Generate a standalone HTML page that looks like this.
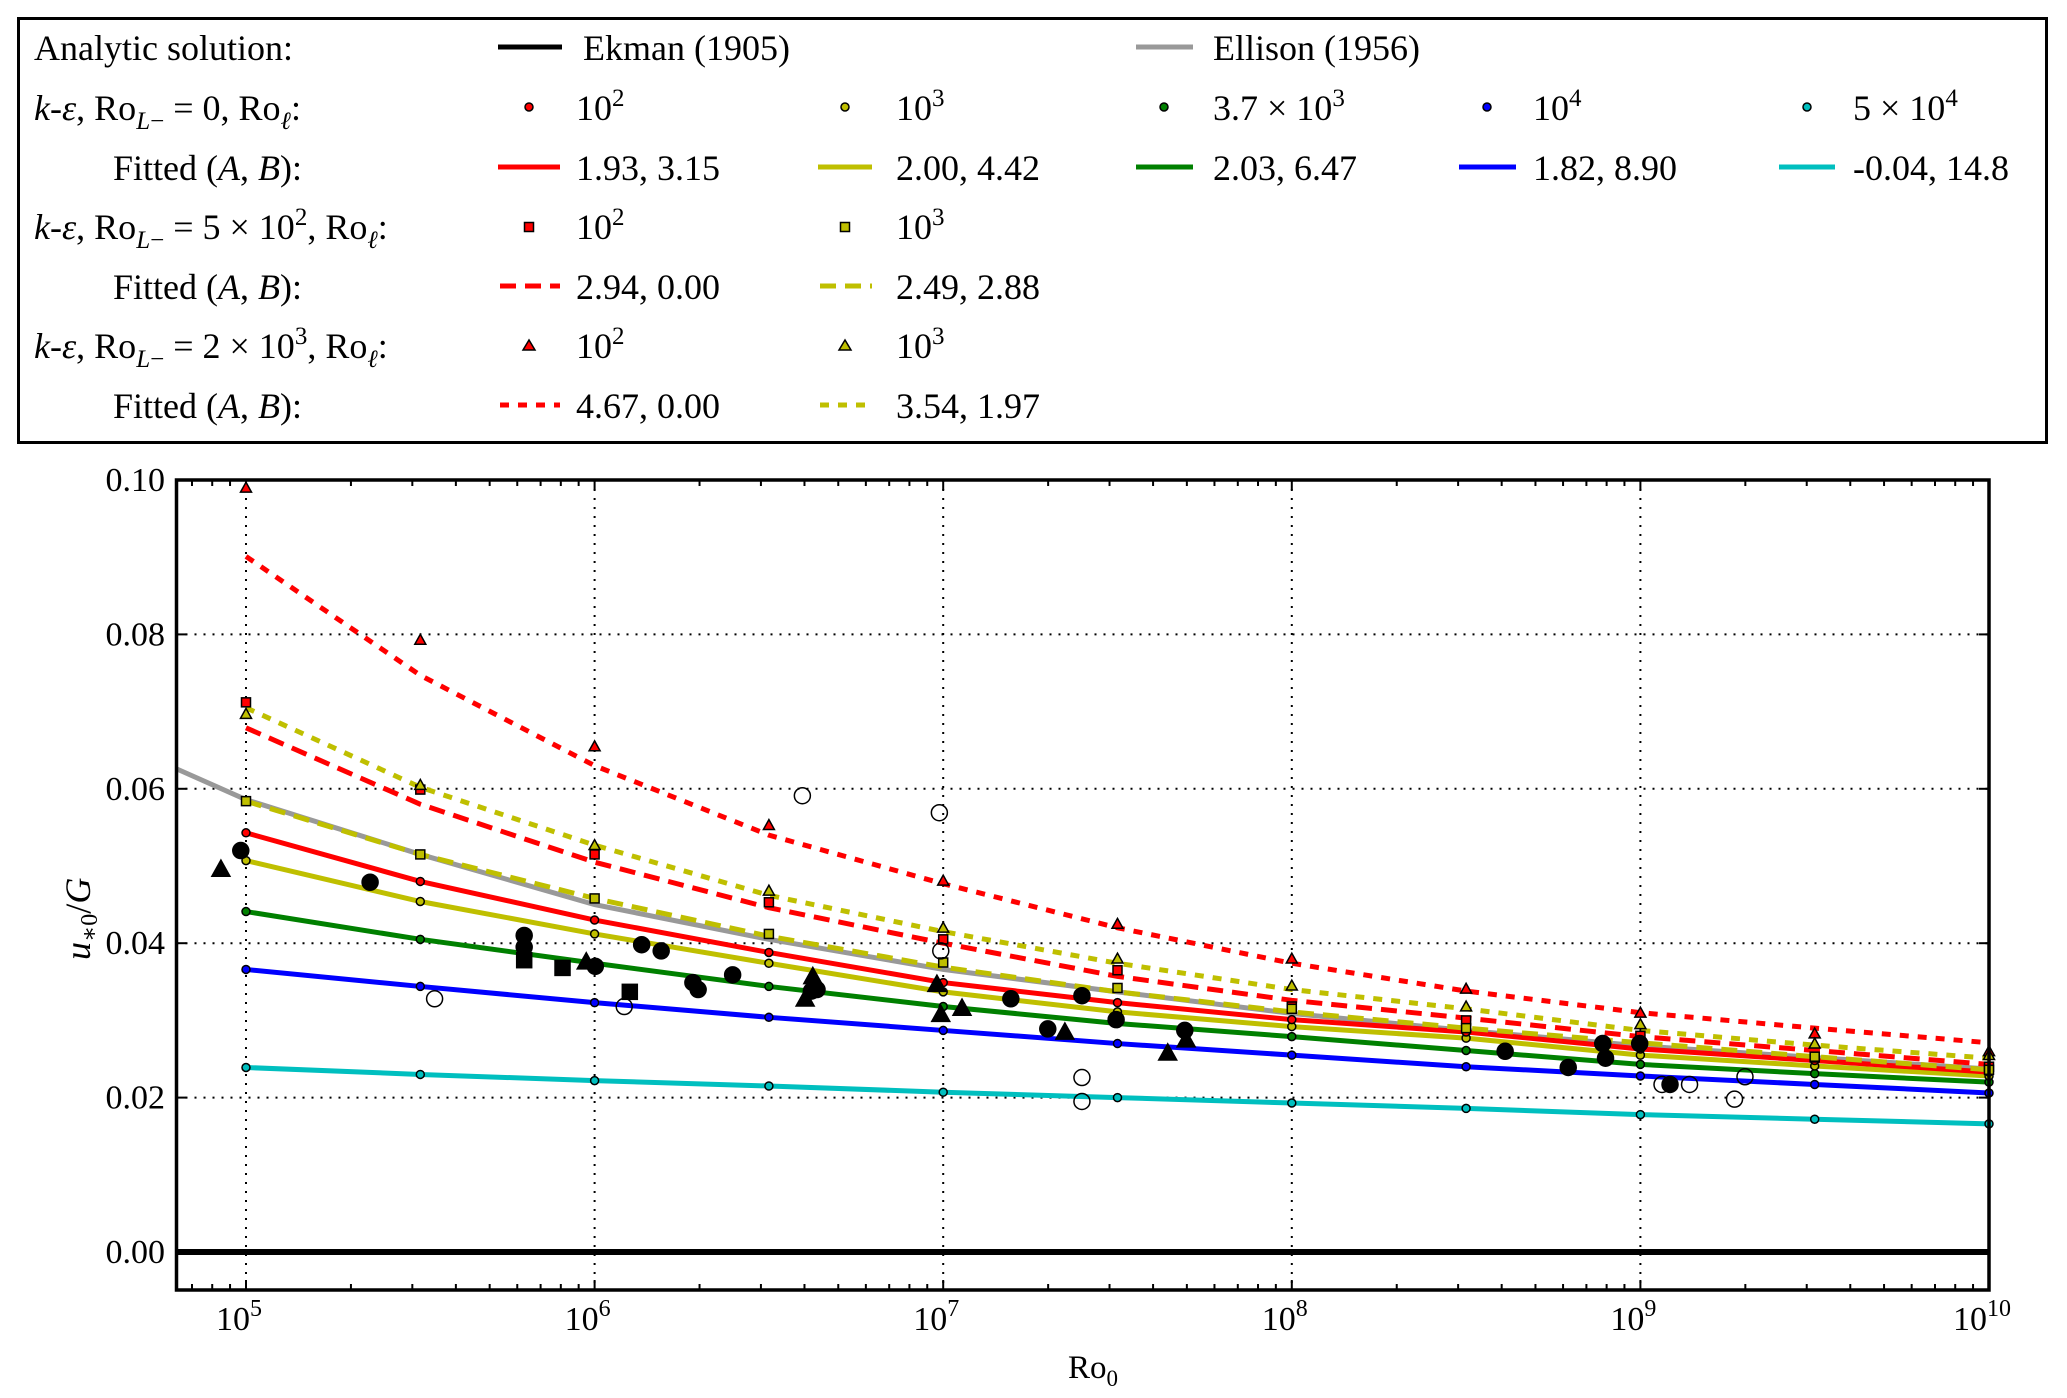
<!DOCTYPE html>
<html><head><meta charset="utf-8"><style>
html,body{margin:0;padding:0;background:#fff;}
body{position:relative;width:2067px;height:1398px;overflow:hidden;}
svg{display:block;}
svg text{font-family:"Liberation Serif","DejaVu Serif",serif;}
</style></head><body>
<svg id="chart" xmlns="http://www.w3.org/2000/svg" width="2067" height="1398" viewBox="0 0 2067 1398" style="position:absolute;left:0;top:0">
<rect x="0" y="0" width="2067" height="1398" fill="#fff"/>
<rect x="18.5" y="18.5" width="2028" height="424" fill="#fff" stroke="#000" stroke-width="3"/>
<g id="plot"></g>
</svg>
<script>
// ---- data ----
const xLogs = [5, 5.5, 6, 6.5, 7, 7.5, 8, 8.5, 9, 9.5, 10];
const redSolid   = [0.0543,0.0480,0.0430,0.0388,0.0349,0.0323,0.0301,0.0285,0.0263,0.0248,0.0233];
const yelSolid   = [0.0507,0.0454,0.0412,0.0374,0.0337,0.0311,0.0292,0.0277,0.0255,0.0241,0.0228];
const grnSolid   = [0.0441,0.0405,0.0374,0.0344,0.0318,0.0296,0.0279,0.0261,0.0243,0.0231,0.0220];
const bluSolid   = [0.0366,0.0344,0.0323,0.0304,0.0287,0.0270,0.0255,0.0240,0.0228,0.0217,0.0206];
const cyaSolid   = [0.0239,0.0230,0.0222,0.0215,0.0207,0.0200,0.0193,0.0186,0.0178,0.0172,0.0166];
const redDashed  = [0.0679,0.0580,0.0505,0.0446,0.0400,0.0357,0.0326,0.0303,0.0279,0.0261,0.0243];
const yelDashed  = [0.0584,0.0515,0.0458,0.0409,0.0369,0.0337,0.0311,0.0290,0.0271,0.0253,0.0236];
const redDotted  = [0.0901,0.0747,0.0630,0.0540,0.0477,0.0420,0.0374,0.0338,0.0310,0.0290,0.0271];
const yelDotted  = [0.0705,0.0602,0.0527,0.0462,0.0415,0.0374,0.0340,0.0315,0.0287,0.0268,0.0251];
const ellisonLogs = [4.8, 5, 5.5, 6, 6.5, 7, 7.5, 8, 8.5, 9, 9.5, 10];
const ellisonVals = [0.0626,0.0586,0.0515,0.0450,0.0405,0.0366,0.0337,0.0309,0.0287,0.0267,0.0252,0.0237];
const redSquares = [0.0712,0.0599,0.0515,0.0453,0.0405,0.0365,0.0318,0.0300,0.0280,0.0252,0.0240];
const yelSquares = [0.0584,0.0515,0.0458,0.0412,0.0375,0.0342,0.0315,0.0290,0.0272,0.0253,0.0236];
const redTris    = [0.0990,0.0793,0.0655,0.0553,0.0481,0.0425,0.0380,0.0341,0.0310,0.0283,0.0260];
const yelTris    = [0.0697,0.0605,0.0527,0.0468,0.0420,0.0380,0.0345,0.0318,0.0295,0.0270,0.0255];
const obsCircLog = [4.985,5.356,5.798,5.798,6.002,6.135,6.191,6.282,6.297,6.396,6.622,6.638,7.194,7.3,7.398,7.496,7.693,8.612,8.793,8.892,8.9,8.998,9.085];
const obsCircVal = [0.052,0.0479,0.041,0.0395,0.037,0.0398,0.039,0.0349,0.034,0.0359,0.0338,0.034,0.0328,0.0289,0.0332,0.0301,0.0287,0.026,0.0239,0.027,0.0251,0.027,0.0217];
const obsTriLog  = [4.928,5.976,6.604,6.626,6.982,6.993,7.054,7.349,7.644,7.697];
const obsTriVal  = [0.0496,0.0376,0.0328,0.0357,0.0347,0.0308,0.0316,0.0285,0.0258,0.0275];
const obsSqLog   = [5.798,5.908,6.101];
const obsSqVal   = [0.0378,0.0368,0.0337];
const openLog    = [5.541,6.085,6.596,6.989,6.993,7.398,7.398,9.062,9.141,9.27,9.3];
const openVal    = [0.0328,0.0318,0.0591,0.0569,0.039,0.0226,0.0195,0.0217,0.0217,0.0198,0.0227];
const yTicks = [0, 0.02, 0.04, 0.06, 0.08, 0.10];
const yTickLabels = ["0.00","0.02","0.04","0.06","0.08","0.10"];
const xDecades = [5, 6, 7, 8, 9, 10];

// ---- axes ----
const L=176.5, R=1989, T=480, B=1290;
const X = lg => 246 + (lg - 5) * 348.6;
const Y = v => 1252 - v * 7720;
const NS="http://www.w3.org/2000/svg";
const plot=document.getElementById('plot');
function mk(tag, attrs, parent){const e=document.createElementNS(NS,tag);for(const k in attrs)e.setAttribute(k,attrs[k]);(parent||plot).appendChild(e);return e;}

yTicks.forEach(v=>{ if(v>0){
  const g=mk('line',{x1:L,x2:R,y1:Y(v),y2:Y(v),stroke:'#000','stroke-width':2,'stroke-dasharray':'2,7'});
  
  
}});
xDecades.forEach(d=>{ if(d<10){
  const g=mk('line',{x1:X(d),x2:X(d),y1:T,y2:B,stroke:'#000','stroke-width':2,'stroke-dasharray':'2,7'});
  
  
}});
for(let d=4;d<=10;d++){for(let m=1;m<=9;m++){const lg=d+Math.log10(m);const x=X(lg);if(x<L||x>R)continue;const len=m===1?10:6;
  mk('line',{x1:x,x2:x,y1:B,y2:B-len,stroke:'#000','stroke-width':2});
  mk('line',{x1:x,x2:x,y1:T,y2:T+len,stroke:'#000','stroke-width':2});}}
yTicks.forEach(v=>{mk('line',{x1:L,x2:L+10,y1:Y(v),y2:Y(v),stroke:'#000','stroke-width':2});mk('line',{x1:R,x2:R-10,y1:Y(v),y2:Y(v),stroke:'#000','stroke-width':2});});
yTicks.forEach((v,i)=>{const t=mk('text',{x:165,y:Y(v)+11,'text-anchor':'end','font-size':34});t.textContent=yTickLabels[i];
  
  });
xDecades.forEach(d=>{const t=mk('text',{x:X(d)-7,y:1330,'text-anchor':'middle','font-size':34});t.textContent='10';
  const s=document.createElementNS(NS,'tspan');s.setAttribute('dy','-14');s.setAttribute('font-size','24');s.textContent=String(d);t.appendChild(s);
  
  });

const defs=mk('defs',{});const cp=mk('clipPath',{id:'clip'},defs);mk('rect',{x:L,y:T,width:R-L,height:B-T},cp);
const clipped=mk('g',{'clip-path':'url(#clip)'});

function line(logs, vals, color, dash, name, w){
  const p=mk('polyline',{points:logs.map((lg,i)=>X(lg)+','+Y(vals[i])).join(' '),fill:'none',stroke:color,'stroke-width':w||5,'stroke-dasharray':dash||'none'},clipped);
  
  
}
function circ(x,y,r,fill,parent,name){const c=mk('circle',{cx:x,cy:y,r:r,fill:fill,stroke:'#000','stroke-width':1.5},parent);
  
  return c;}
function sq(x,y,s,fill,parent,name){const c=mk('rect',{x:x-s,y:y-s,width:2*s,height:2*s,fill:fill,stroke:'#000','stroke-width':1.5},parent);
  
  return c;}
function tri(x,y,s,fill,parent,name){const c=mk('polygon',{points:`${x},${y-s} ${x-s},${y+s*0.8} ${x+s},${y+s*0.8}`,fill:fill,stroke:'#000','stroke-width':1.5},parent);
  
  return c;}

const RED='#ff0000',YEL='#bfbf00',GRN='#008000',BLU='#0000ff',CYA='#00bfbf',GRY='#999999';
line([4.7,10.2],[0,0],'#000','none','ekman-line',6);
line(ellisonLogs, ellisonVals, GRY, 'none', 'ellison-line', 5);
line(xLogs, cyaSolid, CYA, 'none', 'fit-line-5e4');
line(xLogs, bluSolid, BLU, 'none', 'fit-line-1e4');
line(xLogs, grnSolid, GRN, 'none', 'fit-line-3.7e3');
line(xLogs, yelSolid, YEL, 'none', 'fit-line-1e3');
line(xLogs, redSolid, RED, 'none', 'fit-line-1e2');
line(xLogs, yelDashed, YEL, '16,9', 'fit-dashed-1e3');
line(xLogs, redDashed, RED, '16,9', 'fit-dashed-1e2');
line(xLogs, yelDotted, YEL, '9,9', 'fit-dotted-1e3');
line(xLogs, redDotted, RED, '9,9', 'fit-dotted-1e2');

const mg=mk('g',{});
[[cyaSolid,CYA],[bluSolid,BLU],[grnSolid,GRN],[yelSolid,YEL],[redSolid,RED]].forEach(([arr,c])=>arr.forEach((v,i)=>circ(X(xLogs[i]),Y(v),4,c,mg,'model-point-circle')));
redSquares.forEach((v,i)=>sq(X(xLogs[i]),Y(v),4.5,RED,mg,'model-point-square'));
yelSquares.forEach((v,i)=>sq(X(xLogs[i]),Y(v),4.5,YEL,mg,'model-point-square'));
redTris.forEach((v,i)=>tri(X(xLogs[i]),Y(v),5.5,RED,mg,'model-point-triangle'));
yelTris.forEach((v,i)=>tri(X(xLogs[i]),Y(v),5.5,YEL,mg,'model-point-triangle'));
obsCircLog.forEach((lg,i)=>circ(X(lg),Y(obsCircVal[i]),8,'#000',mg,'observation-circle'));
obsTriLog.forEach((lg,i)=>tri(X(lg),Y(obsTriVal[i]),9,'#000',mg,'observation-triangle'));
obsSqLog.forEach((lg,i)=>sq(X(lg),Y(obsSqVal[i]),7.5,'#000',mg,'observation-square'));
openLog.forEach((lg,i)=>circ(X(lg),Y(openVal[i]),8,'none',mg,'observation-open-circle'));

const fr=mk('rect',{x:L,y:T,width:R-L,height:B-T,fill:'none',stroke:'#000','stroke-width':3.5});


</script>
<svg style="position:absolute;left:0;top:0" width="2067" height="440" xmlns="http://www.w3.org/2000/svg">
<g font-size="36" fill="#000">
<text x="34" y="60">Analytic solution:</text>
<line x1="498" x2="562" y1="47" y2="47" stroke="#000" stroke-width="5"/>
<text x="583" y="60">Ekman (1905)</text>
<line x1="1136" x2="1193" y1="47" y2="47" stroke="#999" stroke-width="5"/>
<text x="1213" y="60">Ellison (1956)</text>

<text x="34" y="120"><tspan font-style="italic">k</tspan>-<tspan font-style="italic">ε</tspan>, Ro<tspan font-style="italic" font-size="25" dy="9">L</tspan><tspan font-size="25">−</tspan><tspan dy="-9"> = 0, Ro</tspan><tspan font-style="italic" font-size="25" dy="9">ℓ</tspan><tspan dy="-9">:</tspan></text>
<text x="113" y="180">Fitted (<tspan font-style="italic">A</tspan>, <tspan font-style="italic">B</tspan>):</text>
<text x="34" y="239"><tspan font-style="italic">k</tspan>-<tspan font-style="italic">ε</tspan>, Ro<tspan font-style="italic" font-size="25" dy="9">L</tspan><tspan font-size="25">−</tspan><tspan dy="-9"> = 5 × 10</tspan><tspan font-size="25" dy="-14">2</tspan><tspan dy="14">, Ro</tspan><tspan font-style="italic" font-size="25" dy="9">ℓ</tspan><tspan dy="-9">:</tspan></text>
<text x="113" y="299">Fitted (<tspan font-style="italic">A</tspan>, <tspan font-style="italic">B</tspan>):</text>
<text x="34" y="358"><tspan font-style="italic">k</tspan>-<tspan font-style="italic">ε</tspan>, Ro<tspan font-style="italic" font-size="25" dy="9">L</tspan><tspan font-size="25">−</tspan><tspan dy="-9"> = 2 × 10</tspan><tspan font-size="25" dy="-14">3</tspan><tspan dy="14">, Ro</tspan><tspan font-style="italic" font-size="25" dy="9">ℓ</tspan><tspan dy="-9">:</tspan></text>
<text x="113" y="418">Fitted (<tspan font-style="italic">A</tspan>, <tspan font-style="italic">B</tspan>):</text>

<circle cx="529" cy="107" r="4" fill="#ff0000" stroke="#000" stroke-width="1.5"/>
<text x="576" y="120">10<tspan font-size="25" dy="-14">2</tspan></text>
<circle cx="845" cy="107" r="4" fill="#bfbf00" stroke="#000" stroke-width="1.5"/>
<text x="896" y="120">10<tspan font-size="25" dy="-14">3</tspan></text>
<circle cx="1164" cy="107" r="4" fill="#008000" stroke="#000" stroke-width="1.5"/>
<text x="1213" y="120">3.7 × 10<tspan font-size="25" dy="-14">3</tspan></text>
<circle cx="1487" cy="107" r="4" fill="#0000ff" stroke="#000" stroke-width="1.5"/>
<text x="1533" y="120">10<tspan font-size="25" dy="-14">4</tspan></text>
<circle cx="1807" cy="107" r="4" fill="#00bfbf" stroke="#000" stroke-width="1.5"/>
<text x="1853" y="120">5 × 10<tspan font-size="25" dy="-14">4</tspan></text>

<line x1="498" x2="560" y1="167" y2="167" stroke="#ff0000" stroke-width="5"/>
<text x="576" y="180">1.93, 3.15</text>
<line x1="818" x2="872" y1="167" y2="167" stroke="#bfbf00" stroke-width="5"/>
<text x="896" y="180">2.00, 4.42</text>
<line x1="1136" x2="1193" y1="167" y2="167" stroke="#008000" stroke-width="5"/>
<text x="1213" y="180">2.03, 6.47</text>
<line x1="1459" x2="1516" y1="167" y2="167" stroke="#0000ff" stroke-width="5"/>
<text x="1533" y="180">1.82, 8.90</text>
<line x1="1779" x2="1835" y1="167" y2="167" stroke="#00bfbf" stroke-width="5"/>
<text x="1853" y="180">-0.04, 14.8</text>

<rect x="524.5" y="222.5" width="9" height="9" fill="#ff0000" stroke="#000" stroke-width="1.5"/>
<text x="576" y="239">10<tspan font-size="25" dy="-14">2</tspan></text>
<rect x="840.5" y="222.5" width="9" height="9" fill="#bfbf00" stroke="#000" stroke-width="1.5"/>
<text x="896" y="239">10<tspan font-size="25" dy="-14">3</tspan></text>

<line x1="500" x2="560" y1="286" y2="286" stroke="#ff0000" stroke-width="5" stroke-dasharray="16,9"/>
<text x="576" y="299">2.94, 0.00</text>
<line x1="820" x2="872" y1="286" y2="286" stroke="#bfbf00" stroke-width="5" stroke-dasharray="16,9"/>
<text x="896" y="299">2.49, 2.88</text>

<polygon points="529,340 523,350 535,350" fill="#ff0000" stroke="#000" stroke-width="1.5"/>
<text x="576" y="358">10<tspan font-size="25" dy="-14">2</tspan></text>
<polygon points="845,340 839,350 851,350" fill="#bfbf00" stroke="#000" stroke-width="1.5"/>
<text x="896" y="358">10<tspan font-size="25" dy="-14">3</tspan></text>

<line x1="500" x2="560" y1="405" y2="405" stroke="#ff0000" stroke-width="5" stroke-dasharray="9,9"/>
<text x="576" y="418">4.67, 0.00</text>
<line x1="820" x2="872" y1="405" y2="405" stroke="#bfbf00" stroke-width="5" stroke-dasharray="9,9"/>
<text x="896" y="418">3.54, 1.97</text>
</g>
</svg>
<svg style="position:absolute;left:0;top:1300px" width="2067" height="98" xmlns="http://www.w3.org/2000/svg">
<text x="1068" y="78" font-size="33">Ro<tspan font-size="23" dy="8">0</tspan></text>
</svg>
<svg style="position:absolute;left:40px;top:820px" width="70" height="180" xmlns="http://www.w3.org/2000/svg">
<text transform="translate(50,140) rotate(-90)" font-size="36"><tspan font-style="italic">u</tspan><tspan font-size="24" dy="7">∗0</tspan><tspan dy="-7">/</tspan><tspan font-style="italic">G</tspan></text>
</svg>
</body></html>
